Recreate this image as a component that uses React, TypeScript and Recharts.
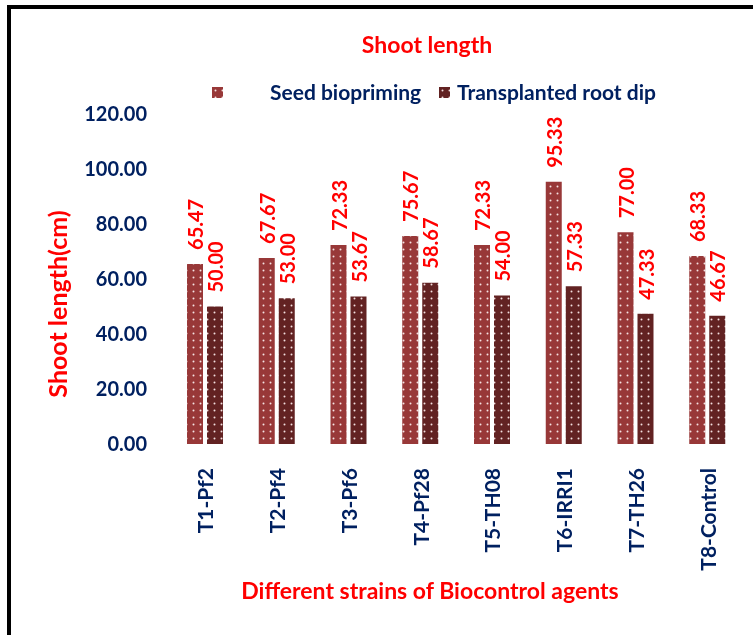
import { BarChart, Bar, XAxis, YAxis, Legend, LabelList } from "recharts";

const strains = ["T1-Pf2", "T2-Pf4", "T3-Pf6", "T4-Pf28", "T5-TH08", "T6-IRRI1", "T7-TH26", "T8-Control"];
const seedBiopriming = [65.47, 67.67, 72.33, 75.67, 72.33, 95.33, 77.0, 68.33];
const rootDip = [50.0, 53.0, 53.67, 58.67, 54.0, 57.33, 47.33, 46.67];
const yTicks = [0, 20, 40, 60, 80, 100, 120];

const data = strains.map((name, i) => ({ name, seed: seedBiopriming[i], root: rootDip[i] }));

const FONT = "Lato, 'DejaVu Sans', sans-serif";
const NAVY = "#002060";
const RED = "#ff0000";
const SEED = "#983838";
const ROOT = "#622222";

function BarValue(props: any) {
  const { x, y, width, value } = props;
  const cx = Number(x) + Number(width) / 2;
  const cy = Number(y) - 14;
  return (
    <text
      transform={`translate(${cx},${cy}) rotate(-90)`}
      textAnchor="start"
      dominantBaseline="central"
      fill={RED}
      fontSize={20}
      fontWeight={700}
      fontFamily={FONT}
    >
      {Number(value).toFixed(2)}
    </text>
  );
}

function StrainTick(props: any) {
  const { x, y, payload } = props;
  return (
    <text
      transform={`translate(${x},${y + 16}) rotate(-90)`}
      textAnchor="end"
      dominantBaseline="central"
      fill={NAVY}
      fontSize={21}
      fontWeight={700}
      fontFamily={FONT}
    >
      {payload.value}
    </text>
  );
}

function LegendBox() {
  const txt = { position: "absolute" as const, top: 0, color: NAVY, fontSize: 21, fontWeight: 700, fontFamily: FONT, lineHeight: "24px", whiteSpace: "nowrap" as const };
  const sq = (bg: string, left: number) => (
    <svg style={{ position: "absolute", left, top: 7 }} width={11} height={11}>
      <rect width={11} height={11} fill={bg} />
    </svg>
  );
  return (
    <div style={{ position: "relative", width: 745, height: 24 }}>
      {sq("url(#seedDots)", 204)}
      <span style={{ ...txt, left: 262 }}>Seed biopriming</span>
      {sq("url(#rootDots)", 431)}
      <span style={{ ...txt, left: 449 }}>Transplanted root dip</span>
    </div>
  );
}

export default function App() {
  return (
    <div style={{ position: "relative", width: 745, height: 627, background: "#fff" }}>
      <div style={{ position: "fixed", left: 7, top: 5, width: 1000, height: 1000, border: "4px solid #000", pointerEvents: "none" }} />
      <svg width={0} height={0} style={{ position: "absolute" }}>
        <defs>
          <pattern id="seedDots" width={7} height={7} patternUnits="userSpaceOnUse">
            <rect width={7} height={7} fill={SEED} />
            <circle cx={3.5} cy={3.5} r={1} fill="#f5e2e2" />
          </pattern>
          <pattern id="rootDots" width={7} height={7} patternUnits="userSpaceOnUse">
            <rect width={7} height={7} fill={ROOT} />
            <circle cx={3.5} cy={3.5} r={1} fill="#f2dede" />
          </pattern>
        </defs>
      </svg>
      <div style={{ position: "absolute", top: 22, left: 0, width: 838, textAlign: "center", color: RED, fontSize: 23, fontWeight: 700, fontFamily: FONT }}>
        Shoot length
      </div>
      <div style={{ position: "absolute", top: 568, left: 0, width: 844, textAlign: "center", color: RED, fontSize: 23, fontWeight: 700, fontFamily: FONT }}>
        Different strains of Biocontrol agents
      </div>
      <div
        style={{
          position: "absolute",
          left: 49,
          top: 296,
          transform: "translate(-50%,-50%) rotate(-90deg)",
          color: RED,
          fontSize: 25,
          fontWeight: 700,
          fontFamily: FONT,
          whiteSpace: "nowrap",
        }}
      >
        Shoot length(cm)
      </div>
      <BarChart width={745} height={627} data={data} margin={{ top: 82, right: 10, left: 0, bottom: 0 }} barSize={16} barGap={4}>
        <XAxis dataKey="name" height={191} axisLine={false} tickLine={false} tick={<StrainTick />} interval={0} />
        <YAxis
          width={161}
          domain={[0, 120]}
          ticks={yTicks}
          axisLine={false}
          tickLine={false}
          tickMargin={16}
          tickFormatter={(v: number) => v.toFixed(2)}
          tick={{ fill: NAVY, fontSize: 20, fontWeight: 700, fontFamily: FONT }}
        />
        <Legend verticalAlign="top" wrapperStyle={{ top: 72, left: 0 }} content={() => <LegendBox />} />
        <Bar dataKey="seed" name="Seed biopriming" fill="url(#seedDots)" isAnimationActive={false}>
          <LabelList dataKey="seed" content={<BarValue />} />
        </Bar>
        <Bar dataKey="root" name="Transplanted root dip" fill="url(#rootDots)" isAnimationActive={false}>
          <LabelList dataKey="root" content={<BarValue />} />
        </Bar>
      </BarChart>
    </div>
  );
}
